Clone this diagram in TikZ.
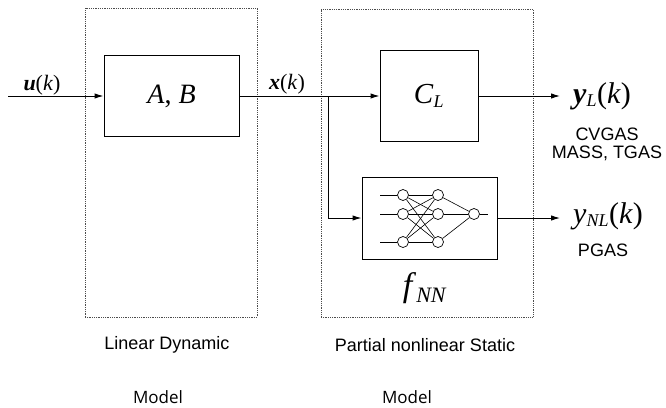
\documentclass[tikz,border=0pt]{standalone}
\usepackage{fontspec}
\setmainfont{Liberation Serif}
\newfontfamily\arialfont{Liberation Sans}
\newfontfamily\modelfont{Open Sans}
\usepackage{tikz}
\usetikzlibrary{positioning,arrows.meta}

\tikzset{
  block/.style={draw, line width=1pt, inner sep=0pt},
  modelbox/.style={draw=black!70, densely dotted, line width=0.8pt, inner sep=0pt},
  neuron/.style={draw, circle, line width=0.7pt, minimum size=11pt, inner sep=0pt, fill=white},
  sig/.style={line width=1pt},
  caption/.style={font=\arialfont\fontsize{18}{20}\selectfont, inner sep=0pt},
  mcaption/.style={font=\modelfont\fontsize{17}{19}\selectfont, inner sep=0pt},
  mathlbl/.style={inner sep=0pt}
}

\begin{document}
\begin{tikzpicture}[x=1pt, y=-1pt, >={Latex[length=9pt,width=5.5pt]}]
    \useasboundingbox (0,0) rectangle (666,407);

    % dotted model frames
    \node[modelbox, minimum width=172pt, minimum height=309pt] (ldbox) at (171,162.5) {};
    \node[modelbox, minimum width=212pt, minimum height=308pt] (pnbox) at (427,163) {};

    % blocks
    \node[block, minimum width=135pt, minimum height=81pt] (ab) at (171.5,96)
        {\fontsize{28}{30}\selectfont\textit{A}, \textit{B}};
    \node[block, minimum width=98pt, minimum height=91pt] (cl) at (429,96)
        {\fontsize{29}{31}\selectfont\textit{C}\textsubscript{\fontsize{18}{19}\selectfont\textit{L}}};
    \node[block, minimum width=135pt, minimum height=82pt] (nn) at (429.5,218) {};

    % neural net inside f_NN
    \foreach \i/\yy in {1/195,2/214,3/242} {
        \node[neuron] (h1\i) at (403,\yy) {};
        \node[neuron] (h2\i) at (438,\yy) {};
        \coordinate (in\i) at (380,\yy);
        \draw[line width=0.7pt] (in\i) -- (h1\i);
    }
    \node[neuron] (out) at (474,214) {};
    \coordinate (outend) at (488,214);
    \foreach \i in {1,2,3} {
        \foreach \j in {1,2,3} {
            \draw[line width=0.6pt] (h1\i) -- (h2\j);
        }
        \draw[line width=0.6pt] (h2\i) -- (out);
    }
    \draw[line width=0.7pt] (out) -- (outend);
    \node[mathlbl] (fnn) at (425,288)
        {\fontsize{34}{36}\selectfont\textit{f}\textsubscript{\fontsize{22}{23}\selectfont\textit{NN}}};

    % signals
    \coordinate (uin) at (8,96);
    \coordinate (split) at (328,96);
    \coordinate (yl) at (560,96);
    \coordinate (ynl) at (560,218);
    \draw[sig,->] (uin) -- (ab.west);
    \draw[sig] (ab.east) -- (split);
    \draw[sig,->] (split) -- (cl.west);
    \draw[sig,->] (split) |- (nn.west);
    \draw[sig,->] (cl.east) -- (yl);
    \draw[sig,->] (nn.east) -- (ynl);

    % signal labels
    \node[mathlbl] (ulbl) at (42,85) {\fontsize{22}{24}\selectfont\textbf{\textit{u}}(\textit{k})};
    \node[mathlbl] (xlbl) at (287,84) {\fontsize{22}{24}\selectfont\textbf{\textit{x}}(\textit{k})};
    \node[mathlbl] (yllbl) at (602,96)
        {\fontsize{30}{32}\selectfont\textbf{\textit{y}}\textsubscript{\fontsize{18}{19}\selectfont\textit{L}}(\textit{k})};
    \node[mathlbl] (ynllbl) at (608,216)
        {\fontsize{30}{32}\selectfont\textit{y}\textsubscript{\fontsize{18}{19}\selectfont\textit{NL}}(\textit{k})};
    \node[caption] (cvgas) at (607,134) {CVGAS};
    \node[caption] (mass) at (607,153) {MASS, TGAS};
    \node[caption] (pgas) at (603,250) {PGAS};

    % model names
    \node[caption] (ldname) at (167,345) {Linear Dynamic};
    \node[caption] (pnname) at (425,345) {Partial nonlinear Static};
    \node[mcaption] (ldmodel) at (158,397) {Model};
    \node[mcaption] (pnmodel) at (407,397) {Model};
\end{tikzpicture}
\end{document}
